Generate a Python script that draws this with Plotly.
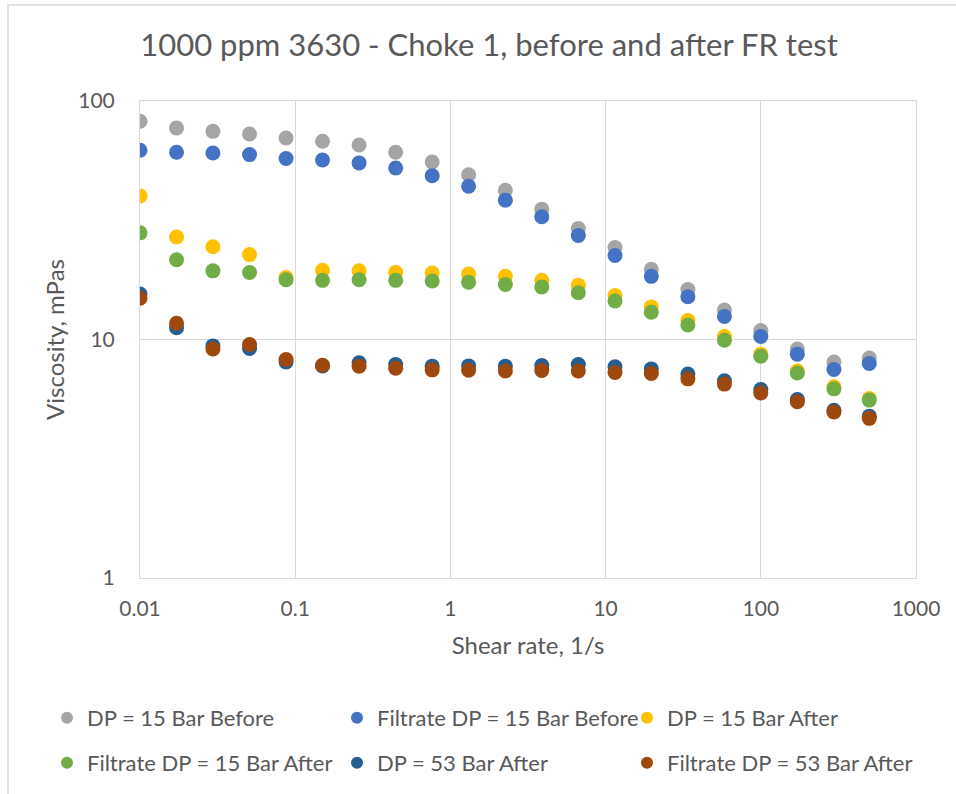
import plotly.graph_objects as go

shear_rate = [0.01, 0.0172, 0.0295, 0.0508, 0.0873, 0.150, 0.258, 0.444, 0.763, 1.31,
              2.26, 3.88, 6.67, 11.5, 19.7, 33.9, 58.3, 100, 172, 296, 500]

dp15_before = [82.2, 77.0, 74.6, 72.7, 70.0, 67.8, 65.4, 61.0, 55.5, 49.1,
               42.2, 35.2, 29.2, 24.3, 19.7, 16.2, 13.3, 10.9, 9.13, 8.05, 8.37]
filt_dp15_before = [62.2, 61.0, 60.5, 59.6, 57.4, 56.6, 55.0, 52.4, 48.6, 43.9,
                    38.4, 32.7, 27.3, 22.5, 18.4, 15.1, 12.5, 10.3, 8.68, 7.48, 7.93]
dp15_after = [40.0, 26.9, 24.5, 22.7, 18.2, 19.5, 19.4, 19.1, 19.0, 18.8,
              18.4, 17.7, 16.9, 15.3, 13.7, 12.0, 10.3, 8.68, 7.38, 6.33, 5.66]
filt_dp15_after = [28.0, 21.6, 19.4, 19.1, 17.8, 17.7, 17.8, 17.7, 17.6, 17.4,
                   17.0, 16.6, 15.7, 14.5, 13.0, 11.5, 9.93, 8.51, 7.24, 6.21, 5.57]
dp53_after = [15.5, 11.2, 9.40, 9.17, 8.05, 7.75, 7.98, 7.86, 7.73, 7.75,
              7.73, 7.78, 7.86, 7.68, 7.53, 7.16, 6.71, 6.17, 5.60, 5.05, 4.77]
filt_dp53_after = [14.9, 11.7, 9.13, 9.53, 8.24, 7.80, 7.73, 7.58, 7.46, 7.43,
                   7.38, 7.41, 7.38, 7.27, 7.20, 6.84, 6.50, 5.97, 5.48, 4.97, 4.67]

series_names = ["DP = 15 Bar Before", "Filtrate DP = 15 Bar Before", "DP = 15 Bar After",
                "Filtrate DP = 15 Bar After", "DP = 53 Bar After", "Filtrate DP = 53 Bar After"]
series_values = [dp15_before, filt_dp15_before, dp15_after,
                 filt_dp15_after, dp53_after, filt_dp53_after]
series_colors = ["#A5A5A5", "#4472C4", "#FFC000", "#70AD47", "#255E91", "#9E480E"]
series_legend = ["legend", "legend", "legend", "legend2", "legend2", "legend2"]

x_ticks = [0.01, 0.1, 1, 10, 100, 1000]
x_ticktext = ["0.01", "0.1", "1", "10", "100", "1000"]
y_ticks = [1, 10, 100]
y_ticktext = ["1", "10", "100"]

FONT = "Lato"
TXT = "#595959"
GRID = "#D9D9D9"

fig = go.Figure()
for name, vals, col, lg in zip(series_names, series_values, series_colors, series_legend):
    fig.add_trace(go.Scatter(
        x=shear_rate, y=vals, mode="markers", name=name, legend=lg,
        marker=dict(color=col, size=15, line=dict(width=0)),
    ))

W, H = 956, 794
L, R, T, B = 140, 40, 101, 216
pw, ph = W - L - R, H - T - B

def px_x(p):
    return (p - L) / pw

def px_y(p):
    return (H - B - p) / ph

legend_common = dict(
    orientation="h", xanchor="left", yanchor="top", x=px_x(47),
    entrywidth=245, entrywidthmode="pixels", itemsizing="constant",
    font=dict(family=FONT, size=22, color=TXT), bgcolor="rgba(0,0,0,0)",
)

fig.update_layout(
    width=W, height=H,
    margin=dict(l=L, r=R, t=T, b=B, autoexpand=False),
    paper_bgcolor="white", plot_bgcolor="white",
    title=dict(text="1000 ppm 3630 - Choke 1, before and after FR test",
               x=489 / W, xanchor="center", xref="container",
               y=1 - 45 / H, yanchor="middle", yref="container",
               font=dict(family=FONT, size=31, color=TXT)),
    xaxis=dict(type="log", range=[-2, 3], tickvals=x_ticks, ticktext=x_ticktext,
               showgrid=True, gridcolor=GRID, gridwidth=1,
               showline=True, linecolor=GRID, linewidth=1, mirror=True,
               ticks="", ticklabelstandoff=12, zeroline=False,
               tickfont=dict(family=FONT, size=21, color=TXT),
               title=dict(text="Shear rate, 1/s", standoff=17,
                          font=dict(family=FONT, size=24, color=TXT))),
    yaxis=dict(type="log", range=[0, 2], tickvals=y_ticks, ticktext=y_ticktext,
               showgrid=True, gridcolor=GRID, gridwidth=1,
               showline=True, linecolor=GRID, linewidth=1, mirror=True,
               ticks="", ticklabelstandoff=20, zeroline=False,
               tickfont=dict(family=FONT, size=21, color=TXT),
               title=dict(text="Viscosity, mPas", standoff=6,
                          font=dict(family=FONT, size=24, color=TXT))),
    legend=dict(y=px_y(697), **legend_common),
    legend2=dict(y=px_y(742), **legend_common),
    shapes=[dict(type="rect", xref="paper", yref="paper",
                 x0=px_x(8), x1=px_x(970), y0=px_y(810), y1=px_y(5),
                 line=dict(color=GRID, width=1.5), fillcolor="rgba(0,0,0,0)", layer="below")],
)

fig.write_html("out.html")
